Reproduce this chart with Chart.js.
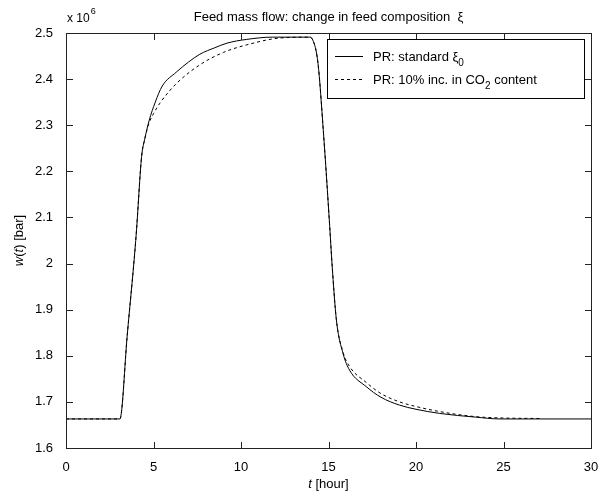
<!DOCTYPE html>
<html>
<head>
<meta charset="utf-8">
<script src="https://cdn.jsdelivr.net/npm/chart.js@4"></script>
<style>
  html, body { margin: 0; padding: 0; background: #fff; }
  #wrap { width: 599px; height: 500px; }
</style>
</head>
<body>
<div id="wrap"><canvas id="feedChart"></canvas></div>
<script>
// w(t) values in units of 10^6
const tStandard = [0, 3.08, 3.5, 3.94, 4.03, 4.32, 4.5, 4.75, 5.1, 5.5, 6.3, 7.0, 7.65, 8.5, 9.2, 10.3, 11.8, 13.9,
    14.1, 14.4, 14.7, 15.07, 15.2, 15.45, 15.83, 16.2, 17.16, 18, 19.06, 20, 21.35, 23.4, 24.8, 30];
const wStandard = [1.663, 1.663, 1.845, 2.029, 2.073, 2.232, 2.27, 2.31, 2.35, 2.385, 2.415, 2.437, 2.454, 2.468, 2.478, 2.486, 2.491, 2.491,
    2.485, 2.434, 2.29, 2.08, 2.0, 1.878, 1.805, 1.769, 1.733, 1.71, 1.693, 1.684, 1.675, 1.667, 1.663, 1.663];

const tCO2 = [0, 3.08, 3.5, 3.94, 4.03, 4.32, 4.5, 4.75, 5.0, 5.37, 6.3, 7.65, 9.0, 10.3, 12.2, 13.9,
    14.1, 14.4, 14.7, 15.07, 15.2, 15.45, 15.83, 16.2, 17.16, 18, 19.06, 20, 21.35, 23.4, 25, 27.05];
const wCO2 = [1.663, 1.663, 1.845, 2.029, 2.073, 2.232, 2.27, 2.305, 2.325, 2.348, 2.39, 2.431, 2.458, 2.474, 2.489, 2.491,
    2.485, 2.434, 2.29, 2.08, 2.0, 1.878, 1.808, 1.777, 1.742, 1.718, 1.700, 1.690, 1.679, 1.668, 1.665, 1.664];

const legendLabels = [["PR: standard \u03BE", "0", ""], ["PR: 10% inc. in CO", "2", " content"]];
const titleText = "Feed mass flow: change in feed composition  \u03BE";

const FONT = "Liberation Sans, Arial, sans-serif";

function toPoints(xs, ys) {
    return xs.map((x, i) => ({ x: x, y: ys[i] }));
}

// draws text with a subscript part
function drawSubText(ctx, x, y, parts, size) {
    ctx.font = size + "px " + FONT;
    ctx.fillText(parts[0], x, y);
    x += ctx.measureText(parts[0]).width;
    ctx.font = (size - 3) + "px " + FONT;
    ctx.fillText(parts[1], x, y + 5);
    x += ctx.measureText(parts[1]).width;
    ctx.font = size + "px " + FONT;
    ctx.fillText(parts[2], x, y);
}

const matlabFrame = {
    id: "matlabFrame",
    afterDraw(chart) {
        const ctx = chart.ctx;
        const area = chart.chartArea;
        const xs = chart.scales.x;
        const ys = chart.scales.y;
        const L = Math.round(area.left), R = Math.round(area.right);
        const T = Math.round(area.top), B = Math.round(area.bottom);
        ctx.save();
        ctx.setLineDash([]);
        ctx.strokeStyle = "#222";
        ctx.lineWidth = 1;
        ctx.strokeRect(L + 0.5, T + 0.5, R - L, B - T);

        // inward ticks on all four sides
        ctx.fillStyle = "#222";
        xs.getTicks().forEach(tk => {
            const px = Math.round(xs.getPixelForValue(tk.value));
            ctx.fillRect(px, B - 6, 1, 7);
            ctx.fillRect(px, T, 1, 7);
        });
        ys.getTicks().forEach(tk => {
            const py = Math.round(ys.getPixelForValue(tk.value));
            ctx.fillRect(L, py, 7, 1);
            ctx.fillRect(R - 6, py, 7, 1);
        });

        // title
        ctx.fillStyle = "#000";
        ctx.textBaseline = "alphabetic";
        ctx.textAlign = "center";
        ctx.font = "13px " + FONT;
        ctx.fillText(titleText, (area.left + area.right) / 2, 21);

        // exponent
        ctx.textAlign = "left";
        ctx.font = "12px " + FONT;
        ctx.fillText("x 10", area.left + 1, 22);
        const ew = ctx.measureText("x 10").width;
        ctx.font = "9px " + FONT;
        ctx.fillText("6", area.left + 1 + ew + 1, 14);

        // x axis label
        ctx.font = "italic 13px " + FONT;
        const tW = ctx.measureText("t").width;
        ctx.font = "13px " + FONT;
        const restW = ctx.measureText(" [hour]").width;
        const sx = (area.left + area.right) / 2 - (tW + restW) / 2;
        ctx.font = "italic 13px " + FONT;
        ctx.fillText("t", sx, 488);
        ctx.font = "13px " + FONT;
        ctx.fillText(" [hour]", sx + tW, 488);

        // y axis label
        ctx.save();
        ctx.translate(23, (area.top + area.bottom) / 2);
        ctx.rotate(-Math.PI / 2);
        const yParts = [["w", true], ["(", false], ["t", true], [") [bar]", false]];
        let total = 0;
        yParts.forEach(p => {
            ctx.font = (p[1] ? "italic " : "") + "13px " + FONT;
            total += ctx.measureText(p[0]).width;
        });
        let cx = -total / 2;
        yParts.forEach(p => {
            ctx.font = (p[1] ? "italic " : "") + "13px " + FONT;
            ctx.fillText(p[0], cx, 0);
            cx += ctx.measureText(p[0]).width;
        });
        ctx.restore();

        // legend
        const lx = 327, ly = 39, lw = 257, lh = 59;
        ctx.fillStyle = "#fff";
        ctx.fillRect(lx, ly, lw, lh);
        ctx.strokeStyle = "#000";
        ctx.strokeRect(lx + 0.5, ly + 0.5, lw, lh);
        const rows = [ly + 17, ly + 40];
        chart.data.datasets.forEach((ds, i) => {
            ctx.beginPath();
            ctx.setLineDash(ds.borderDash || []);
            ctx.moveTo(lx + 8, rows[i] + 0.5);
            ctx.lineTo(lx + 36, rows[i] + 0.5);
            ctx.stroke();
            ctx.setLineDash([]);
            ctx.fillStyle = "#000";
            drawSubText(ctx, lx + 46, rows[i] + 5, legendLabels[i], 13);
        });
        ctx.restore();
    }
};

const chart = new Chart(document.getElementById("feedChart"), {
    type: "line",
    data: {
        datasets: [{
            label: "PR: standard",
            data: toPoints(tStandard, wStandard),
            borderColor: "#000",
            borderWidth: 1,
            pointRadius: 0,
            cubicInterpolationMode: "monotone"
        }, {
            label: "PR: 10% inc. in CO2 content",
            data: toPoints(tCO2, wCO2),
            borderColor: "#000",
            borderWidth: 1,
            borderDash: [3, 3],
            pointRadius: 0,
            cubicInterpolationMode: "monotone"
        }]
    },
    options: {
        responsive: true,
        maintainAspectRatio: false,
        animation: false,
        layout: { padding: { left: 0, right: 8, top: 33, bottom: 0 } },
        plugins: {
            legend: { display: false },
            tooltip: { enabled: false }
        },
        scales: {
            x: {
                type: "linear",
                min: 0,
                max: 30,
                grid: { display: false },
                border: { display: false },
                ticks: {
                    stepSize: 5,
                    padding: 4,
                    color: "#000",
                    maxRotation: 0,
                    font: { family: FONT, size: 13 }
                },
                afterFit: function (scale) {
                    scale.height = 52;
                    scale.paddingLeft = 0;
                    scale.paddingRight = 0;
                }
            },
            y: {
                min: 1.6,
                max: 2.5,
                grid: { display: false },
                border: { display: false },
                ticks: {
                    stepSize: 0.1,
                    padding: 5,
                    color: "#000",
                    font: { family: FONT, size: 13 },
                    callback: function (v) { return String(+v.toFixed(1)); }
                },
                afterFit: function (scale) { scale.width = 66; }
            }
        }
    },
    plugins: [matlabFrame]
});
</script>
</body>
</html>
